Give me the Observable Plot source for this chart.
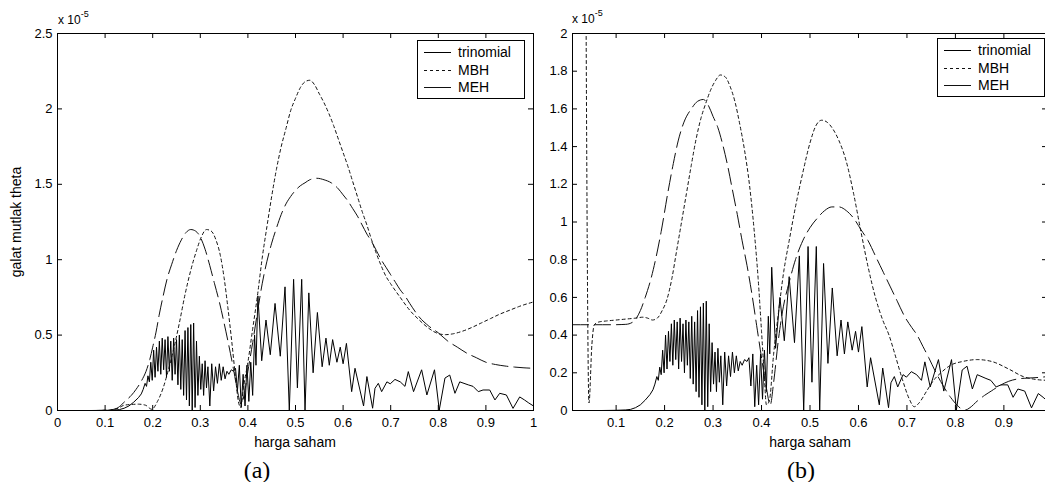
<!DOCTYPE html>
<html><head><meta charset="utf-8">
<script src="https://cdn.jsdelivr.net/npm/d3@7"></script>
<script src="https://cdn.jsdelivr.net/npm/@observablehq/plot@0.6"></script>
<style>
html,body{margin:0;padding:0;background:#fff;width:1045px;height:482px;overflow:hidden;}
#root{position:relative;width:1045px;height:482px;font-family:"Liberation Sans",Arial,sans-serif;color:#000;overflow:hidden;}
.abs{position:absolute;white-space:nowrap;line-height:1;}
.plot{position:absolute;top:0;}
.legend{position:absolute;border:1px solid #000;background:#fff;width:106px;height:57px;font-size:14px;}
.legend .it{position:absolute;left:0;width:106px;height:16px;}
.legend svg{position:absolute;left:6px;top:0;}
.legend span{position:absolute;left:40px;top:0;line-height:16px;}
</style></head><body><div id="root"></div><script>
// ---- data (x = harga saham, y = galat mutlak theta in units of 1e-5) ----
const seriesNames = ["trinomial", "MBH", "MEH"];
const xTicksA = [0, 0.1, 0.2, 0.3, 0.4, 0.5, 0.6, 0.7, 0.8, 0.9, 1];
const yTicksA = [0, 0.5, 1, 1.5, 2, 2.5];
const xTicksB = [0.1, 0.2, 0.3, 0.4, 0.5, 0.6, 0.7, 0.8, 0.9];
const yTicksB = [0, 0.2, 0.4, 0.6, 0.8, 1, 1.2, 1.4, 1.6, 1.8, 2];

const trinomial = [[0.01,0],[0.07,0],[0.1,0.001],[0.12,0.003],[0.13,0.006],[0.14,0.015],[0.15,0.03],[0.16,0.055],[0.17,0.085],[0.176,0.11],[0.18,0.14],[0.184,0.18],[0.187,0.16],[0.19,0.23],[0.193,0.19],[0.196,0.32],[0.199,0.2],[0.202,0.4],[0.205,0.22],[0.208,0.42],[0.211,0.26],[0.214,0.46],[0.217,0.24],[0.22,0.48],[0.223,0.27],[0.226,0.47],[0.229,0.22],[0.232,0.49],[0.235,0.26],[0.238,0.46],[0.241,0.2],[0.244,0.48],[0.247,0.24],[0.25,0.47],[0.253,0.17],[0.256,0.5],[0.259,0.14],[0.262,0.47],[0.265,0.1],[0.268,0.53],[0.271,0.07],[0.274,0.55],[0.277,0.03],[0.28,0.57],[0.283,0],[0.286,0.58],[0.289,0.02],[0.292,0.46],[0.295,0.1],[0.298,0.36],[0.301,0.14],[0.304,0.31],[0.307,0.1],[0.31,0.33],[0.313,0.15],[0.316,0.29],[0.32,0.03],[0.324,0.31],[0.328,0.13],[0.332,0.29],[0.336,0.18],[0.34,0.31],[0.344,0.2],[0.348,0.29],[0.352,0.21],[0.356,0.26],[0.36,0.24],[0.365,0.27],[0.37,0.26],[0.374,0.28],[0.378,0.13],[0.382,0.3],[0.386,0.02],[0.39,0.24],[0.394,0.03],[0.398,0.3],[0.402,0.06],[0.406,0.32],[0.41,0.1],[0.414,0.5],[0.417,0.3],[0.421,0.76],[0.429,0.33],[0.438,0.6],[0.447,0.37],[0.457,0.71],[0.468,0.36],[0.478,0.82],[0.487,0],[0.496,0.87],[0.504,0.15],[0.513,0.87],[0.52,0],[0.528,0.78],[0.537,0.25],[0.546,0.65],[0.556,0.29],[0.564,0.48],[0.571,0.3],[0.578,0.47],[0.587,0.32],[0.594,0.42],[0.6,0.31],[0.607,0.445],[0.618,0.125],[0.625,0.28],[0.643,0.03],[0.65,0.225],[0.662,0.015],[0.667,0.147],[0.674,0.18],[0.681,0.125],[0.692,0.19],[0.699,0.177],[0.709,0.206],[0.72,0.19],[0.73,0.16],[0.737,0.258],[0.748,0.125],[0.765,0.27],[0.776,0.103],[0.792,0.27],[0.802,0.003],[0.814,0.215],[0.824,0.235],[0.835,0.114],[0.845,0.19],[0.863,0.17],[0.873,0.16],[0.884,0.125],[0.894,0.136],[0.908,0.136],[0.919,0.07],[0.929,0.114],[0.943,0.103],[0.957,0.014],[0.971,0.09],[0.981,0.07],[0.99,0.05],[1.0,0.03]];

const mbhA = [[0.02,0],[0.08,0],[0.11,0.003],[0.127,0.015],[0.14,0.035],[0.155,0.04],[0.17,0.042],[0.185,0.035],[0.198,0.008],[0.21,0.06],[0.222,0.15],[0.233,0.27],[0.245,0.42],[0.256,0.58],[0.268,0.77],[0.28,0.93],[0.292,1.06],[0.302,1.15],[0.313,1.2],[0.323,1.19],[0.333,1.13],[0.342,1.03],[0.35,0.88],[0.358,0.68],[0.366,0.46],[0.374,0.22],[0.38,0.06],[0.385,0.02],[0.39,0.14],[0.4,0.32],[0.41,0.54],[0.42,0.76],[0.43,1.01],[0.44,1.22],[0.45,1.42],[0.46,1.6],[0.47,1.75],[0.48,1.87],[0.49,1.99],[0.5,2.07],[0.51,2.14],[0.52,2.18],[0.53,2.19],[0.54,2.16],[0.55,2.1],[0.56,2.04],[0.57,1.97],[0.58,1.89],[0.59,1.8],[0.6,1.71],[0.61,1.62],[0.62,1.52],[0.63,1.42],[0.64,1.32],[0.65,1.23],[0.66,1.13],[0.67,1.04],[0.68,0.96],[0.69,0.89],[0.7,0.84],[0.72,0.75],[0.74,0.665],[0.76,0.6],[0.78,0.545],[0.8,0.51],[0.815,0.503],[0.83,0.508],[0.85,0.525],[0.87,0.55],[0.89,0.58],[0.91,0.61],[0.93,0.64],[0.95,0.665],[0.97,0.69],[1.0,0.72]];

const mehA = [[0.02,0],[0.08,0],[0.11,0.004],[0.125,0.015],[0.135,0.04],[0.145,0.07],[0.155,0.1],[0.165,0.14],[0.177,0.2],[0.186,0.26],[0.194,0.34],[0.2,0.42],[0.207,0.52],[0.214,0.64],[0.222,0.76],[0.23,0.87],[0.24,0.97],[0.25,1.06],[0.26,1.13],[0.27,1.18],[0.28,1.2],[0.29,1.19],[0.3,1.15],[0.31,1.07],[0.32,0.96],[0.33,0.84],[0.34,0.72],[0.35,0.58],[0.36,0.43],[0.37,0.27],[0.378,0.13],[0.386,0.04],[0.393,0.12],[0.4,0.26],[0.41,0.45],[0.42,0.65],[0.43,0.84],[0.44,0.99],[0.45,1.11],[0.46,1.21],[0.47,1.3],[0.48,1.37],[0.49,1.42],[0.5,1.46],[0.51,1.49],[0.52,1.51],[0.53,1.53],[0.545,1.54],[0.56,1.53],[0.575,1.51],[0.59,1.47],[0.6,1.43],[0.61,1.39],[0.62,1.34],[0.63,1.29],[0.64,1.23],[0.65,1.17],[0.66,1.12],[0.67,1.06],[0.68,1.0],[0.69,0.95],[0.7,0.9],[0.71,0.85],[0.72,0.8],[0.73,0.76],[0.74,0.71],[0.76,0.62],[0.78,0.56],[0.8,0.515],[0.82,0.46],[0.84,0.42],[0.86,0.38],[0.88,0.35],[0.9,0.32],[0.92,0.305],[0.94,0.295],[0.96,0.288],[0.98,0.283],[1.0,0.28]];

const mbhB = [[0.01,8],[0.03,6],[0.044,0.04],[0.05,0.35],[0.055,0.455],[0.065,0.47],[0.08,0.475],[0.1,0.48],[0.12,0.485],[0.14,0.49],[0.155,0.495],[0.165,0.49],[0.175,0.48],[0.185,0.49],[0.195,0.53],[0.205,0.59],[0.215,0.7],[0.225,0.85],[0.235,1.0],[0.245,1.15],[0.255,1.3],[0.265,1.44],[0.275,1.55],[0.285,1.63],[0.295,1.7],[0.305,1.75],[0.315,1.78],[0.325,1.77],[0.335,1.72],[0.345,1.64],[0.355,1.52],[0.365,1.38],[0.375,1.2],[0.385,0.95],[0.393,0.7],[0.4,0.42],[0.406,0.17],[0.41,0.03],[0.416,0.05],[0.425,0.3],[0.435,0.52],[0.446,0.74],[0.457,0.9],[0.47,1.08],[0.485,1.26],[0.5,1.42],[0.512,1.51],[0.524,1.54],[0.535,1.53],[0.548,1.49],[0.56,1.43],[0.575,1.32],[0.59,1.15],[0.605,0.95],[0.62,0.76],[0.635,0.6],[0.65,0.48],[0.663,0.4],[0.675,0.3],[0.69,0.17],[0.705,0.06],[0.715,0.02],[0.725,0.04],[0.74,0.1],[0.755,0.16],[0.77,0.2],[0.79,0.24],[0.815,0.26],[0.845,0.27],[0.875,0.26],[0.91,0.22],[0.94,0.18],[0.965,0.165],[0.99,0.16]];

const mehB = [[0.01,0.455],[0.05,0.455],[0.09,0.455],[0.12,0.457],[0.135,0.47],[0.15,0.53],[0.16,0.6],[0.172,0.7],[0.183,0.82],[0.193,0.95],[0.207,1.16],[0.218,1.31],[0.228,1.43],[0.24,1.53],[0.255,1.6],[0.268,1.64],[0.28,1.65],[0.29,1.62],[0.3,1.56],[0.31,1.5],[0.32,1.41],[0.33,1.3],[0.34,1.17],[0.35,1.04],[0.36,0.9],[0.37,0.77],[0.38,0.62],[0.39,0.45],[0.4,0.28],[0.41,0.12],[0.418,0.03],[0.425,0.15],[0.435,0.38],[0.445,0.55],[0.457,0.68],[0.47,0.8],[0.485,0.9],[0.5,0.97],[0.515,1.02],[0.53,1.06],[0.545,1.08],[0.56,1.08],[0.575,1.06],[0.59,1.02],[0.605,0.96],[0.62,0.9],[0.635,0.82],[0.65,0.74],[0.665,0.66],[0.68,0.58],[0.695,0.5],[0.71,0.44],[0.721,0.4],[0.733,0.34],[0.745,0.28],[0.76,0.2],[0.775,0.13],[0.79,0.07],[0.805,0.025],[0.818,0.0],[0.83,0.015],[0.845,0.05],[0.86,0.08],[0.875,0.105],[0.89,0.13],[0.91,0.155],[0.93,0.168],[0.95,0.172],[0.97,0.175],[0.99,0.18]];

// ---- styles ----
const styles = {
  trinomial: {stroke: "#000", strokeWidth: 1, dash: null, curve: "linear"},
  MBH: {stroke: "#111", strokeWidth: 1, dash: "3,3", curve: "monotone-x"},
  MEH: {stroke: "#111", strokeWidth: 1, dash: "16,6", curve: "monotone-x"}
};

const root = document.getElementById("root");
const fmt = d => String(d);

function panel({series, xDomain, yDomain, xTicks, yTicks, left, width, marginLeft, marginRight}) {
  const height = 482, marginTop = 33, marginBottom = 72;
  const innerW = width - marginLeft - marginRight;
  const innerH = height - marginTop - marginBottom;
  const t = 5;
  const lineMarks = seriesNames.map(name => {
    const s = styles[name];
    return Plot.line(series[name], {x: d => d[0], y: d => d[1], stroke: s.stroke, strokeWidth: s.strokeWidth,
      strokeDasharray: s.dash, curve: s.curve, clip: true});
  });
  const chart = Plot.plot({
    width, height, marginLeft, marginRight, marginTop, marginBottom,
    x: {domain: xDomain},
    y: {domain: yDomain},
    style: {fontFamily: "'Liberation Sans', Arial, sans-serif", fontSize: "13px", color: "#000", background: "transparent", overflow: "visible"},
    marks: [
      Plot.axisX({ticks: xTicks, tickSize: 0, tickPadding: 7, tickFormat: fmt, label: null, fill: "#000"}),
      Plot.axisY({ticks: yTicks, tickSize: 0, tickPadding: 5, tickFormat: fmt, label: null, fill: "#000"}),
      ...lineMarks,
      Plot.tickX(xTicks, {x: d => d, insetTop: innerH - t, stroke: "#000"}),
      Plot.tickX(xTicks, {x: d => d, insetBottom: innerH - t, stroke: "#000"}),
      Plot.tickY(yTicks, {y: d => d, insetRight: innerW - t, stroke: "#000"}),
      Plot.tickY(yTicks, {y: d => d, insetLeft: innerW - t, stroke: "#000"}),
      Plot.frame({stroke: "#000", strokeWidth: 1})
    ]
  });
  chart.classList.add("plot");
  chart.style.left = left + "px";
  root.appendChild(chart);
}

panel({series: {trinomial, MBH: mbhA, MEH: mehA}, xDomain: [0, 1], yDomain: [0, 2.5],
  xTicks: xTicksA, yTicks: yTicksA, left: 0, width: 540, marginLeft: 57, marginRight: 7});
panel({series: {trinomial, MBH: mbhB, MEH: mehB}, xDomain: [0.01, 0.99], yDomain: [0, 2],
  xTicks: xTicksB, yTicks: yTicksB, left: 520, width: 530, marginLeft: 52, marginRight: 3});

function text(str, x, y, css) {
  const d = document.createElement("div");
  d.className = "abs";
  d.innerHTML = str;
  d.style.left = x + "px"; d.style.top = y + "px";
  Object.assign(d.style, css || {});
  root.appendChild(d);
  return d;
}
// exponent labels
const expo = "x 10<sup style='font-size:9px;position:relative;top:-2px;vertical-align:super;'>-5</sup>";
text(expo, 58, 12, {fontSize: "12px"});
text(expo, 572, 11, {fontSize: "12px"});
// axis labels
text("galat mutlak theta", 16, 222, {fontSize: "14px", transform: "translate(-50%,-50%) rotate(-90deg)"});
text("harga saham", 295, 442, {fontSize: "14px", transform: "translate(-50%,-50%)"});
text("harga saham", 810, 442, {fontSize: "14px", transform: "translate(-50%,-50%)"});
// captions
text("(a)", 257, 470, {fontSize: "24px", fontFamily: "'Liberation Serif','Times New Roman',serif", transform: "translate(-50%,-50%)"});
text("(b)", 801, 470, {fontSize: "24px", fontFamily: "'Liberation Serif','Times New Roman',serif", transform: "translate(-50%,-50%)"});

function legend(left, top) {
  const box = document.createElement("div");
  box.className = "legend";
  box.style.left = left + "px"; box.style.top = top + "px";
  seriesNames.forEach((name, i) => {
    const s = styles[name];
    const it = document.createElement("div");
    it.className = "it";
    it.style.top = (3 + i * 17.6) + "px";
    it.innerHTML = `<svg width="28" height="16"><line x1="0" x2="27" y1="8.5" y2="8.5" stroke="${s.stroke}" stroke-width="1" ${s.dash && name === "MBH" ? `stroke-dasharray="${s.dash}"` : ""}/></svg><span>${name}</span>`;
    box.appendChild(it);
  });
  root.appendChild(box);
}
legend(417, 40);
legend(937, 38);
</script></body></html>
